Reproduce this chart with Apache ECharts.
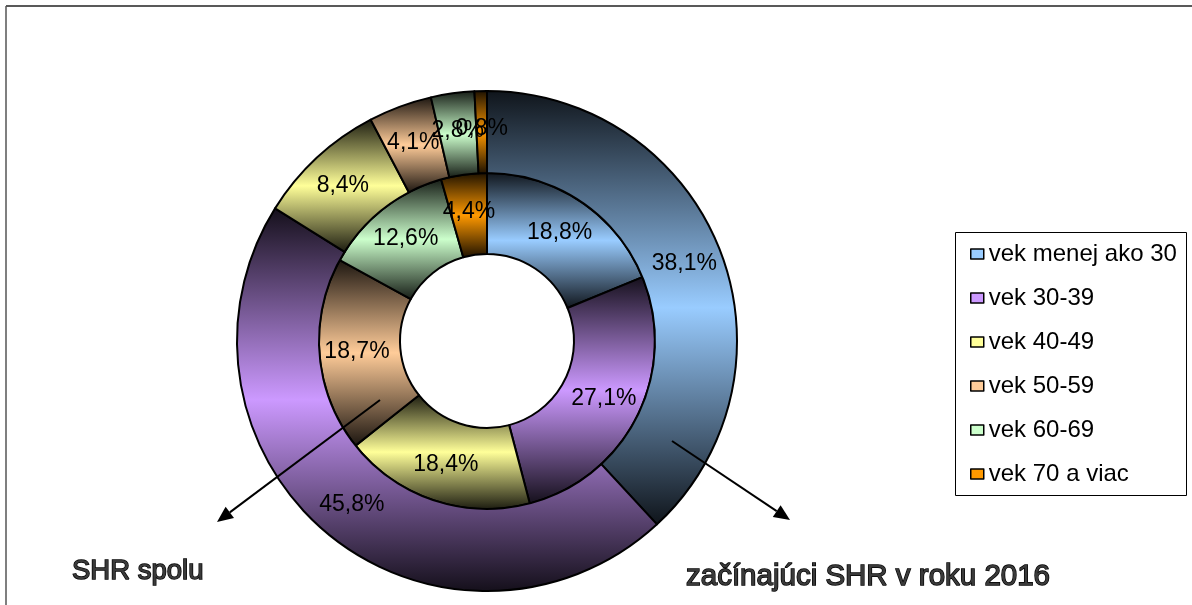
<!DOCTYPE html>
<html>
<head>
<meta charset="utf-8">
<script src="https://cdn.jsdelivr.net/npm/echarts@6/dist/echarts.min.js"></script>
<style>
  html, body { margin: 0; padding: 0; background: #fff; }
  #chart { width: 1192px; height: 605px; }
</style>
</head>
<body>
<div id="chart"></div>
<script>
// Age groups (legend order)
const categories = ['vek menej ako 30', 'vek 30-39', 'vek 40-49', 'vek 50-59', 'vek 60-69', 'vek 70 a viac'];
// Inner ring: all self-employed (SHR spolu), percent
const totalShare = [18.8, 27.1, 18.4, 18.7, 12.6, 4.4];
// Outer ring: new self-employed in 2016, percent
const newShare = [38.1, 45.8, 8.4, 4.1, 2.8, 0.8];
// Ring captions
const innerCaption = 'SHR spolu';
const outerCaption = 'začínajúci SHR v roku 2016';

const baseColors = ['#99CCFF', '#CC99FF', '#FFFF99', '#FFCC99', '#CCFFCC', '#FF9900'];

function darken(hex, k) {
  const n = parseInt(hex.slice(1), 16);
  const r = Math.round(((n >> 16) & 255) * k);
  const g = Math.round(((n >> 8) & 255) * k);
  const b = Math.round((n & 255) * k);
  return 'rgb(' + r + ',' + g + ',' + b + ')';
}

// Each slice is shaded dark at the top and bottom of its box, light in the middle
function shade(hex) {
  const dark = darken(hex, 0.1);
  return new echarts.graphic.LinearGradient(0, 0, 0, 1, [
    { offset: 0, color: dark },
    { offset: 0.5, color: hex },
    { offset: 1, color: dark }
  ]);
}

function ringData(values) {
  return values.map((v, i) => ({
    name: categories[i],
    value: v,
    itemStyle: { color: shade(baseColors[i]) }
  }));
}

const FONT = 'Liberation Sans, Arial, sans-serif';
const fmt = p => p.value.toFixed(1).replace('.', ',') + '%';

const center = [487, 341];
const rHole = 87, rMid = 168, rOuter = 250;

const ringCommon = {
  type: 'pie',
  center: center,
  startAngle: 90,
  clockwise: true,
  silent: true,
  animation: false,
  avoidLabelOverlap: false,
  labelLine: { show: false },
  labelLayout: { hideOverlap: false },
  label: {
    show: true,
    position: 'inside',
    formatter: fmt,
    color: '#000',
    fontFamily: FONT,
    fontSize: 23
  },
  itemStyle: { borderColor: '#000', borderWidth: 2 },
  emphasis: { disabled: true }
};

function arrow(x1, y1, x2, y2) {
  const ang = Math.atan2(y2 - y1, x2 - x1);
  const len = 16, half = 7;
  const bx = x2 - len * Math.cos(ang), by = y2 - len * Math.sin(ang);
  const px = -Math.sin(ang) * half, py = Math.cos(ang) * half;
  return [
    { type: 'line', shape: { x1: x1, y1: y1, x2: bx, y2: by }, style: { stroke: '#000', lineWidth: 2 }, z: 100 },
    { type: 'polygon', shape: { points: [[x2, y2], [bx + px, by + py], [bx - px, by - py]] }, style: { fill: '#000' }, z: 100 }
  ];
}

function caption(text, x, y, size) {
  return {
    type: 'text', x: x, y: y, z: 100,
    style: {
      text: text,
      textVerticalAlign: 'alphabetic',
      fill: '#3a3a3a',
      stroke: '#000',
      lineWidth: 1.4,
      font: size + 'px ' + FONT
    }
  };
}

const chart = echarts.init(document.getElementById('chart'), null, { renderer: 'canvas' });
chart.setOption({
  backgroundColor: '#fff',
  animation: false,
  legend: {
    orient: 'vertical',
    left: 970,
    top: 242,
    padding: 0,
    itemWidth: 13,
    itemHeight: 10,
    itemGap: 20,
    icon: 'rect',
    selectedMode: false,
    textStyle: { fontFamily: FONT, fontSize: 24, color: '#000', padding: [0, 0, 0, 0] },
    data: categories.map((c, i) => ({
      name: c,
      itemStyle: { color: baseColors[i], borderColor: '#000', borderWidth: 1.5 }
    }))
  },
  series: [
    Object.assign({}, ringCommon, { name: innerCaption, radius: [rHole, rMid], data: ringData(totalShare) }),
    Object.assign({}, ringCommon, { name: outerCaption, radius: [rMid, rOuter], data: ringData(newShare) })
  ],
  graphic: [
    // chart frame (top and left edges)
    { type: 'line', shape: { x1: 6, y1: 6, x2: 1192, y2: 6 }, style: { stroke: '#222', lineWidth: 1.5 }, z: 50 },
    { type: 'line', shape: { x1: 6, y1: 6, x2: 6, y2: 605 }, style: { stroke: '#555', lineWidth: 1.5 }, z: 50 },
    // legend box
    { type: 'rect', shape: { x: 955.5, y: 232.5, width: 231, height: 263 }, style: { fill: 'none', stroke: '#000', lineWidth: 1 }, z: 50 },
    // ring captions with pointers
    ...arrow(380, 400, 217, 522),
    ...arrow(672, 441, 790, 520),
    caption(innerCaption, 72, 557, 27.5),
    caption(outerCaption, 686, 562, 29.5)
  ]
});
</script>
</body>
</html>
